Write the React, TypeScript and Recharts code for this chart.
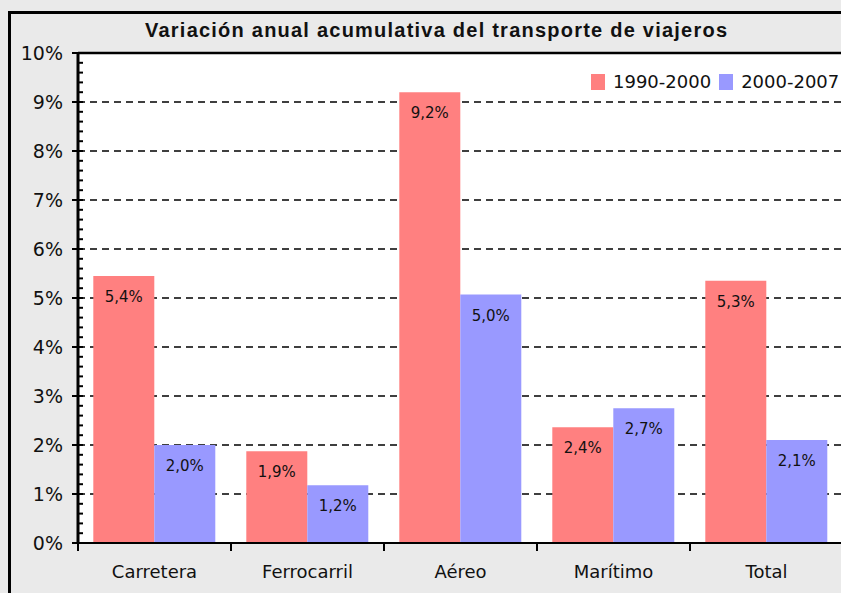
import React from 'react';
import { BarChart, Bar, XAxis, YAxis, CartesianGrid, ReferenceLine, Legend, LabelList } from 'recharts';

// Variación anual acumulativa (%)
const categories = ['Carretera', 'Ferrocarril', 'Aéreo', 'Marítimo', 'Total'];
const serie1990 = [5.45, 1.87, 9.2, 2.36, 5.35];
const serie2000 = [2.0, 1.18, 5.07, 2.75, 2.1];
const labels1990 = ['5,4%', '1,9%', '9,2%', '2,4%', '5,3%'];
const labels2000 = ['2,0%', '1,2%', '5,0%', '2,7%', '2,1%'];
const seriesNames = ['1990-2000', '2000-2007'];
const gridValues = [1, 2, 3, 4, 5, 6, 7, 8, 9];
const yTicks = Array.from({ length: 51 }, (_, i) => i / 5);
const Y_MAX = 10;

const RED = '#FF8080';
const BLUE = '#9999FF';
const BG = '#EAEAEA';
const FONT = '"DejaVu Sans", sans-serif';

const CHART_W = 850;
const CHART_H = 593;
const MARGIN = { top: 53, right: 7, bottom: 0, left: 0 };
const Y_AXIS_W = 78;
const X_AXIS_H = 50;
const band = (CHART_W - MARGIN.left - MARGIN.right - Y_AXIS_W) / categories.length;
const plotH = CHART_H - MARGIN.top - MARGIN.bottom - X_AXIS_H;

const data = categories.map((name, i) => ({
  name,
  a: serie1990[i],
  b: serie2000[i],
}));

const gridRows = (props: any) => {
  const scale = props?.yAxis?.scale;
  if (typeof scale === 'function') return gridValues.map((v) => scale(v));
  return gridValues.map((v) => MARGIN.top + plotH * (1 - v / Y_MAX));
};

const YTick = (props: any) => {
  const { x, y, payload } = props;
  const v = payload.value;
  const major = Math.abs(v - Math.round(v)) < 1e-6;
  if (!major) {
    return <line x1={x} x2={x + 5} y1={y} y2={y} stroke="#000" strokeWidth={2} />;
  }
  return (
    <g>
      <line x1={x - 6} x2={x + 5} y1={y} y2={y} stroke="#000" strokeWidth={2} />
      <text x={x - 15} y={y} textAnchor="end" dominantBaseline="central" fontSize={19} fontFamily={FONT} fill="#111">
        {Math.round(v)}%
      </text>
    </g>
  );
};

const XTick = (props: any) => {
  const { x, y, payload } = props;
  return (
    <g>
      <line x1={x - band / 2} x2={x - band / 2} y1={y} y2={y + 8} stroke="#000" strokeWidth={2} />
      <text x={x} y={y + 28} textAnchor="middle" dominantBaseline="central" fontSize={18} fontFamily={FONT} fill="#111">
        {payload.value}
      </text>
    </g>
  );
};

const makeLabel = (texts: string[]) => (props: any) => {
  const { x, y, width, index } = props;
  return (
    <text x={x + width / 2} y={y + 21} textAnchor="middle" dominantBaseline="central" fontSize={15} fontFamily={FONT} fill="#111">
      {texts[index]}
    </text>
  );
};

const LegendBox = () => (
  <div style={{ display: 'flex', alignItems: 'center', fontFamily: FONT, fontSize: 18, color: '#111' }}>
    <span style={{ width: 14, height: 16, background: RED, display: 'inline-block', marginRight: 8 }} />
    <span style={{ marginRight: 8 }}>{seriesNames[0]}</span>
    <span style={{ width: 14, height: 16, background: BLUE, display: 'inline-block', marginRight: 8 }} />
    <span>{seriesNames[1]}</span>
  </div>
);

export default function App() {
  return (
    <div style={{ position: 'fixed', left: 0, top: 0, width: 841, height: 593, overflow: 'hidden', background: BG }}>
      <div
        style={{
          position: 'absolute',
          left: 8,
          top: 11,
          width: 900,
          height: 700,
          borderLeft: '3px solid #000',
          borderTop: '3px solid #000',
          boxSizing: 'border-box',
        }}
      />
      <svg style={{ position: 'absolute', left: 0, top: 0 }} width={841} height={50}>
        <text
          x={145}
          y={37}
          textLength={582}
          lengthAdjust="spacing"
          fontSize={20}
          fontWeight="bold"
          fontFamily='"Liberation Sans", Arial, sans-serif'
          fill="#111"
        >
          Variación anual acumulativa del transporte de viajeros
        </text>
      </svg>
      <div style={{ position: 'absolute', left: 0, top: 0 }}>
        <BarChart width={CHART_W} height={CHART_H} data={data} margin={MARGIN} barCategoryGap="10%" barGap={0}>
          <CartesianGrid
            vertical={false}
            fill="#FFFFFF"
            stroke="#000"
            strokeWidth={1.5}
            strokeDasharray="7 5"
            horizontalCoordinatesGenerator={gridRows}
          />
          <XAxis
            dataKey="name"
            height={X_AXIS_H}
            tickLine={false}
            tickSize={0}
            tickMargin={0}
            axisLine={{ stroke: '#000', strokeWidth: 2 }}
            tick={<XTick />}
            interval={0}
          />
          <YAxis
            type="number"
            domain={[0, Y_MAX]}
            ticks={yTicks}
            interval={0}
            width={Y_AXIS_W}
            tickLine={false}
            tickSize={0}
            tickMargin={0}
            axisLine={{ stroke: '#000', strokeWidth: 3 }}
            tick={<YTick />}
          />
          <ReferenceLine y={Y_MAX} stroke="#000" strokeWidth={2.5} />
          <Legend
            layout="horizontal"
            verticalAlign="middle"
            align="center"
            content={<LegendBox />}
            wrapperStyle={{ position: 'absolute', left: 591, top: 71, width: 260 }}
          />
          <Bar dataKey="a" name={seriesNames[0]} fill={RED} isAnimationActive={false}>
            <LabelList dataKey="a" content={makeLabel(labels1990)} />
          </Bar>
          <Bar dataKey="b" name={seriesNames[1]} fill={BLUE} isAnimationActive={false}>
            <LabelList dataKey="b" content={makeLabel(labels2000)} />
          </Bar>
        </BarChart>
      </div>
    </div>
  );
}
